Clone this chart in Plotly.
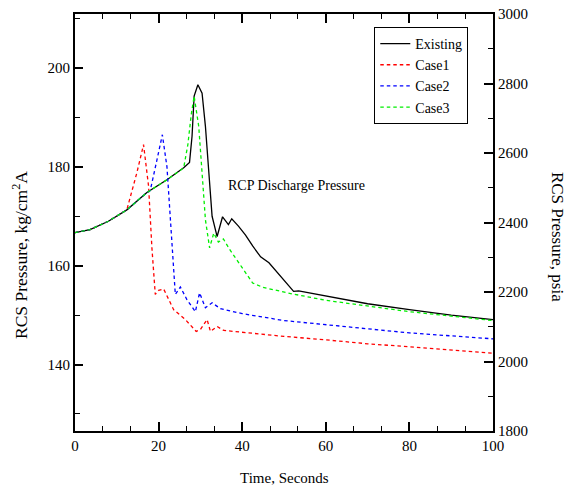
import plotly.graph_objects as go

# ---- data (kg/cm2A vs seconds) ----
t_existing = [0, 3.6, 8, 12.4, 17.2, 22, 26, 27.4, 28.0, 28.5, 29.4, 30.4, 31.2, 32.0, 32.8, 34.0,
              35.3, 36.7, 37.5, 39.1, 40.8, 42.5, 44.4, 46.4, 49.2, 52.3, 53.5, 60, 70, 80, 90, 100]
p_existing = [166.7, 167.3, 169.0, 171.3, 174.8, 177.4, 179.8, 180.9, 186.2, 194.3, 196.6, 194.9, 188.2, 178.1, 170.0, 165.9,
              169.9, 168.3, 169.5, 168.0, 166.2, 164.0, 161.8, 160.6, 157.9, 154.8, 154.9, 153.9, 152.3, 151.1, 150.0, 149.1]

t_case1 = [0, 3.6, 8, 12.4, 14.8, 16.4, 17.6, 18.4, 19.2, 20.0, 21.2, 23.6, 26.4, 29.0, 30.0, 31.6, 32.4,
           34.0, 35.6, 40, 50, 60, 70, 80, 90, 100]
p_case1 = [166.7, 167.3, 169.0, 171.3, 178.8, 184.5, 176.1, 163.6, 154.2, 155.0, 155.3, 151.1, 149.1, 146.7, 147.1, 149.1, 146.7,
           147.7, 146.9, 146.5, 145.7, 145.0, 144.2, 143.6, 142.9, 142.3]

t_case2 = [0, 3.6, 8, 12.4, 17.2, 18.0, 19.5, 20.9, 22.0, 23.2, 24.0, 25.2, 26.8, 28.8, 29.8, 31.2, 32.8,
           34.8, 40, 50, 60, 70, 80, 90, 100]
p_case2 = [166.7, 167.3, 169.0, 171.3, 174.8, 175.2, 181.0, 186.5, 180.0, 163.6, 154.2, 155.7, 153.1, 150.7, 154.5, 151.5, 152.5,
           151.3, 150.3, 148.9, 148.1, 147.2, 146.4, 145.8, 145.2]

t_case3 = [0, 3.6, 8, 12.4, 17.2, 22, 26, 27.0, 27.8, 28.5, 29.6, 30.4, 31.2, 32.2, 33.2, 34.3, 35.5,
           37.0, 38.5, 40.5, 42.5, 45, 52, 60, 70, 80, 90, 100]
p_case3 = [166.7, 167.3, 169.0, 171.3, 174.8, 177.4, 179.8, 184.5, 190.5, 194.3, 188.2, 178.1, 169.3, 163.6, 166.6, 164.8, 165.4,
           163.3, 161.5, 159.0, 156.5, 155.6, 154.3, 153.0, 151.8, 150.7, 149.8, 148.9]

series_names = ["Existing", "Case1", "Case2", "Case3"]
series_colors = ["#000000", "#ff0000", "#0000ff", "#00ee00"]
KG_TO_PSI = 14.223
psia_range = [1800, 3000]

FONT = "Liberation Serif, Times New Roman, Times, serif"

fig = go.Figure()
data = [(t_existing, p_existing), (t_case1, p_case1), (t_case2, p_case2), (t_case3, p_case3)]
for i, ((t, p), name, col) in enumerate(zip(data, series_names, series_colors)):
    fig.add_trace(go.Scatter(
        x=t, y=p, mode="lines", name=name,
        line=dict(color=col, width=1.3, dash="solid" if i == 0 else "3.5px,3px"),
    ))

# invisible trace to activate the secondary axis
fig.add_trace(go.Scatter(x=[0], y=[2000], yaxis="y2", mode="lines",
                         line=dict(width=0), showlegend=False, hoverinfo="skip"))

axis_common = dict(showline=True, linecolor="black", linewidth=2, ticks="inside",
                   tickcolor="black", tickwidth=1.5, showgrid=False, zeroline=False,
                   automargin=False,
                   tickfont=dict(family=FONT, size=15, color="black"))

fig.update_layout(
    width=569, height=487,
    margin=dict(l=75, r=76, t=14, b=56),
    plot_bgcolor="white", paper_bgcolor="white",
    font=dict(family=FONT, color="black"),
    xaxis=dict(range=[0, 100], dtick=20, tick0=0, ticklen=9, mirror="ticks",
               minor=dict(dtick=20 / 3, tick0=0, ticklen=5, ticks="inside", tickcolor="black", tickwidth=1.2),
               **axis_common),
    yaxis=dict(range=[psia_range[0] / KG_TO_PSI, psia_range[1] / KG_TO_PSI], dtick=20, tick0=0, ticklen=8,
               minor=dict(dtick=10, tick0=0, ticklen=5, ticks="inside", tickcolor="black", tickwidth=1.2),
               **axis_common),
    yaxis2=dict(range=psia_range, dtick=200, tick0=0, ticklen=9, overlaying="y", side="right",
                minor=dict(dtick=100, tick0=0, ticklen=5, ticks="inside", tickcolor="black", tickwidth=1.2),
                **axis_common),
    legend=dict(x=0.716, y=0.969, xanchor="left", yanchor="top",
                bordercolor="black", borderwidth=1, bgcolor="white", itemwidth=30,
                font=dict(family=FONT, size=14, color="black"), tracegroupgap=0),
    showlegend=True,
)

fig.add_annotation(x=53.0, y=176.2, xref="x", yref="y", text="RCP Discharge Pressure",
                   showarrow=False, font=dict(family=FONT, size=14, color="black"))
fig.add_annotation(xref="paper", yref="paper", x=-0.1316, y=0.422, xanchor="center", yanchor="middle",
                   text="RCS Pressure, kg/cm<sup>2</sup>A",
                   textangle=-90, showarrow=False, font=dict(family=FONT, size=17.5, color="black"))
fig.add_annotation(xref="paper", yref="paper", x=1.156, y=0.465, xanchor="center", yanchor="middle",
                   text="RCS Pressure, psia",
                   textangle=90, showarrow=False, font=dict(family=FONT, size=17, color="black"))
fig.add_annotation(xref="paper", yref="paper", x=0.5, y=-0.113, xanchor="center", yanchor="middle",
                   text="Time, Seconds",
                   showarrow=False, font=dict(family=FONT, size=15, color="black"))

fig.write_html("out.html", config={"displayModeBar": False},
               post_script="document.body.style.margin='0px';")
